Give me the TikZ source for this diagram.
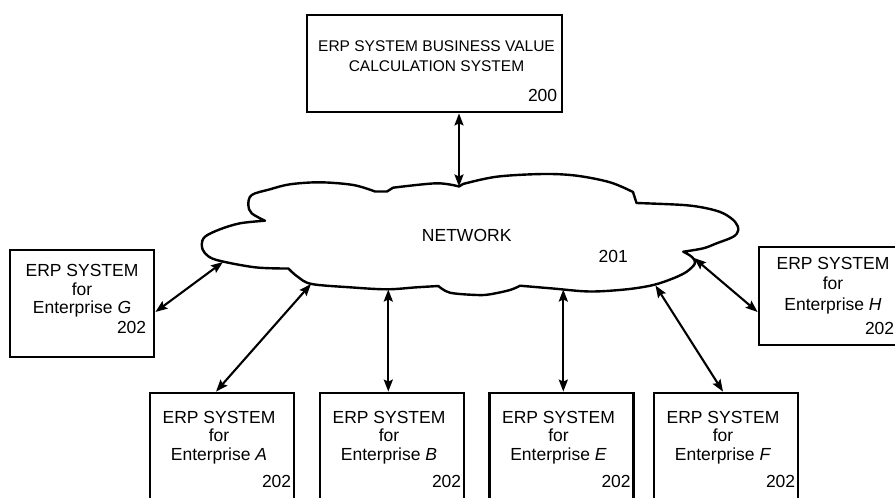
\documentclass[tikz,border=0pt]{standalone}
\usepackage{fontspec}
\setmainfont{Liberation Sans}
\usetikzlibrary{arrows.meta, positioning}

\begin{document}
\begin{tikzpicture}[x=1pt, y=-1pt,
    box/.style={rectangle, draw, line width=2.8pt, minimum width=144pt, inner sep=0pt},
    txt/.style={anchor=north, align=center, inner sep=0pt, font=\fontsize{17.5}{18.7}\selectfont},
    refnum/.style={anchor=base east, inner sep=0pt, font=\fontsize{17.5}{18.7}\selectfont},
    arrow/.style={{Stealth[length=12pt,width=9pt,inset=2pt]}-{Stealth[length=12pt,width=9pt,inset=2pt]}, line width=2.1pt},
    cloudline/.style={line width=2.4pt, line join=round}
]
\path[use as bounding box] (0,0) rectangle (895,498);
\clip (0,0) rectangle (895,498);

% calculation system on top
\node[box, minimum width=255pt, minimum height=97pt] (erpsys) at (434.5,63.5) {};
\node[txt, font=\fontsize{15.5}{19.5}\selectfont] (erpsystxt) at ([xshift=2pt, yshift=-27pt]erpsys.north) {ERP SYSTEM BUSINESS VALUE\\CALCULATION SYSTEM};
\node[refnum] (erpsysnum) at ([xshift=-6pt, yshift=-87.5pt]erpsys.north east) {200};

% network cloud
\draw[cloudline]
    plot[smooth, tension=0.55] coordinates {(265,220.7) (251.7,213.3) (248.3,205) (251.7,195) (270,189.3) (290,184.3) (320,182.3) (353.3,185) (375,191.5)}
    -- (387,191.5) -- (393,187.7)
    -- plot[smooth, tension=0.55] coordinates {(393,187.7) (436.7,183.3) (459,186.5)}
    -- plot[smooth, tension=0.55] coordinates {(463,184) (496.7,176.7) (543.3,174) (576.7,175.7) (610,182.3) (633,192)}
    -- (636.5,203)
    -- plot[smooth, tension=0.55] coordinates {(636.5,203) (683.3,205) (706.7,208.3) (723.3,213.3) (735,221.7) (738.3,230) (733.3,236.7) (716.7,243.3) (703.3,248.3) (683.3,251.7)}
    -- plot[smooth, tension=0.55] coordinates {(683.3,251.7) (692,257) (695,263.3) (686.7,271.7) (673.3,278.3) (653.3,285) (626.7,289.3) (590,291.5) (553,288.5) (520,285.7)}
    -- plot[smooth, tension=0.55] coordinates {(520,285.7) (510,290) (490,294.3) (476.7,295) (450,292.7) (438.3,286)}
    -- plot[smooth, tension=0.55] coordinates {(438.3,286) (416.7,287.3) (386.7,289.3) (350,287.3) (311.7,284) (298,277) (288.3,268.5)}
    -- plot[smooth, tension=0.55] coordinates {(288.3,268.5) (255,267.3) (216.7,260) (205,253.3) (201.7,245) (205,236.7) (220,229.3) (240,223.3) (265,220.7)}
    -- cycle;
\node[font=\fontsize{17.5}{19}\selectfont] (nettxt) at (466.7,235) {NETWORK};
\node[font=\fontsize{17.5}{19}\selectfont] (netnum) at (613.3,256) {201};

% where the links meet the cloud
\coordinate (ntop) at (459,186.5);
\coordinate (cg) at (223,262);
\coordinate (ch) at (694,258);
\coordinate (ca) at (311,284);
\coordinate (cb) at (388.3,289.5);
\coordinate (ce) at (563.3,289.5);
\coordinate (cf) at (655.5,285.5);

% enterprise systems
\node[box, minimum height=107pt] (sysg) at (82,303.5) {};
\node[txt] (sysgtxt) at ([yshift=-15.5pt]sysg.north) {ERP SYSTEM\\for\\Enterprise \textit{G}};
\node[refnum] (sysgnum) at ([xshift=-9pt, yshift=-85pt]sysg.north east) {202};

\node[box, minimum height=98pt] (sysh) at (831,296) {};
\node[txt, font=\fontsize{17.5}{20.5}\selectfont] (syshtxt) at ([xshift=2pt, yshift=-11pt]sysh.north) {ERP SYSTEM\\for\\Enterprise \textit{H}};
\node[refnum] (syshnum) at ([xshift=-10pt, yshift=-88.5pt]sysh.north east) {202};

\node[box, minimum height=110pt] (sysa) at (222,448) {};
\node[txt] (sysatxt) at ([xshift=-3pt, yshift=-19pt]sysa.north) {ERP SYSTEM\\for\\Enterprise \textit{A}};
\node[refnum] (sysanum) at ([xshift=-4pt, yshift=-95.5pt]sysa.north east) {202};

\node[box, minimum height=110pt] (sysb) at (392,448) {};
\node[txt] (sysbtxt) at ([xshift=-3pt, yshift=-19pt]sysb.north) {ERP SYSTEM\\for\\Enterprise \textit{B}};
\node[refnum] (sysbnum) at ([xshift=-4pt, yshift=-95.5pt]sysb.north east) {202};

\node[box, minimum height=110pt] (syse) at (561.5,448) {};
\node[txt] (sysetxt) at ([xshift=-3pt, yshift=-19pt]syse.north) {ERP SYSTEM\\for\\Enterprise \textit{E}};
\node[refnum] (sysenum) at ([xshift=-4pt, yshift=-95.5pt]syse.north east) {202};

\node[box, minimum height=110pt] (sysf) at (726,448) {};
\node[txt] (sysftxt) at ([xshift=-3pt, yshift=-19pt]sysf.north) {ERP SYSTEM\\for\\Enterprise \textit{F}};
\node[refnum] (sysfnum) at ([xshift=-4pt, yshift=-95.5pt]sysf.north east) {202};

% links
\draw[arrow] (erpsys.south -| ntop) -- (ntop);
\draw[arrow] ([yshift=-8.5pt]sysg.east) -- (cg);
\draw[arrow] ([yshift=-16pt]sysh.west) -- (ch);
\draw[arrow] ([xshift=-6pt]sysa.north) -- (ca);
\draw[arrow] (sysb.north -| cb) -- (cb);
\draw[arrow] (syse.north -| ce) -- (ce);
\draw[arrow] ([xshift=-3pt]sysf.north) -- (cf);

\end{tikzpicture}
\end{document}
